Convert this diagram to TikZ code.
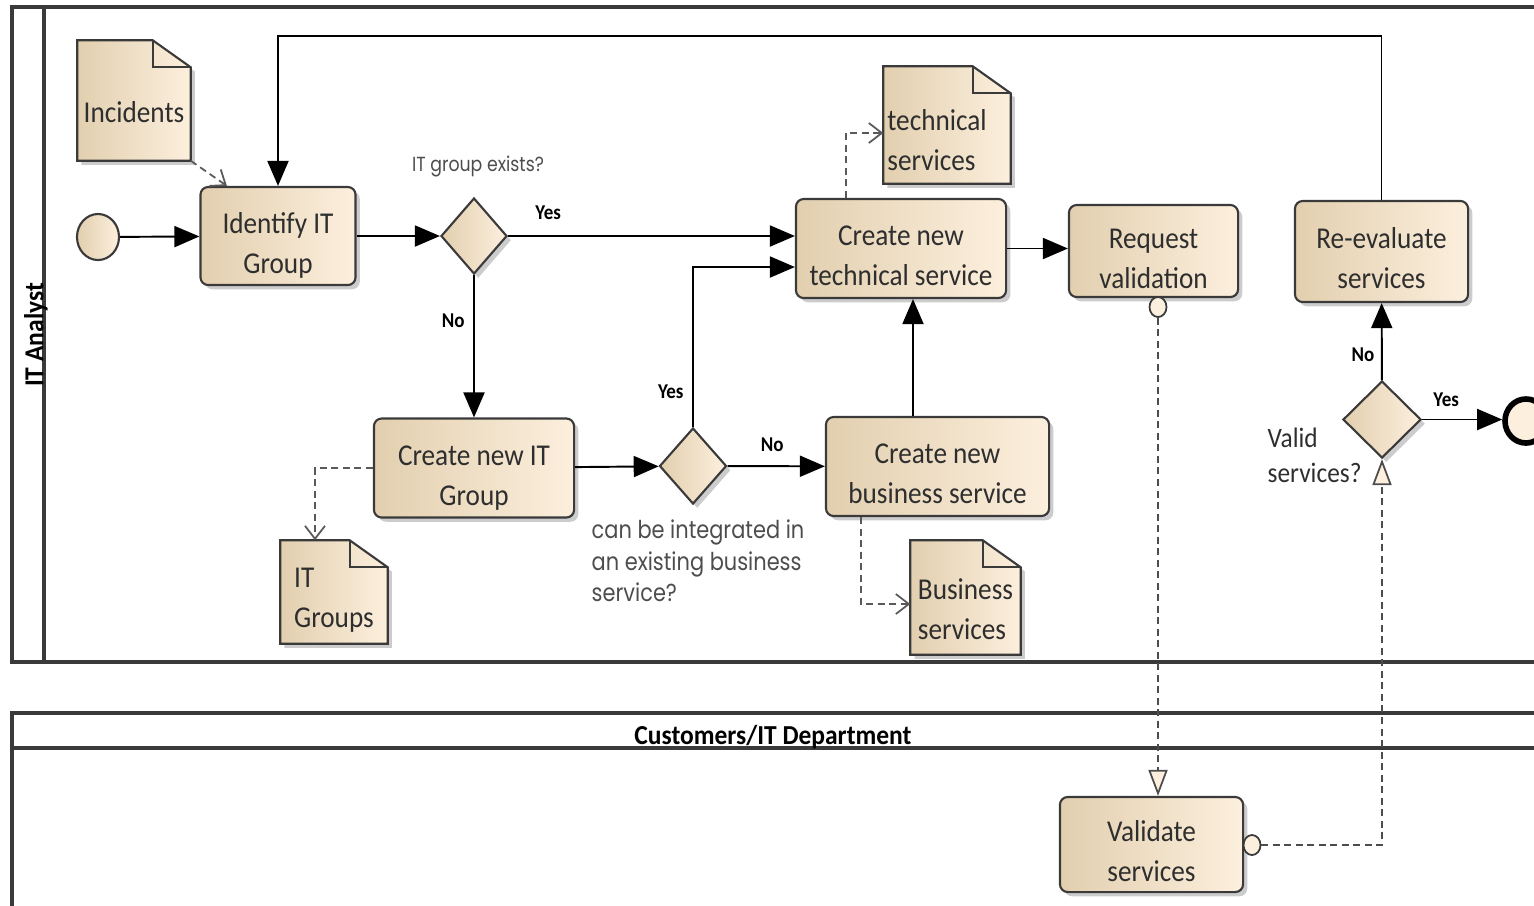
\documentclass[tikz,border=0pt]{standalone}
\usepackage{fontspec}
\setmainfont{Carlito}
\newfontfamily\taskfont[FakeStretch=0.9]{Carlito}
\newfontfamily\lanefont[FakeStretch=0.93]{Carlito}
\newfontfamily\condfont[FakeStretch=0.85]{Poppins}
\usetikzlibrary{positioning, arrows.meta, shapes.geometric, shadows, backgrounds}

\definecolor{sandleft}{HTML}{E2CFAF}
\definecolor{sandright}{HTML}{FCEFDD}
\definecolor{inkline}{HTML}{3A3A3A}
\definecolor{inktext}{HTML}{2E2E2E}

\newcommand{\tasklines}[2]{\rule{0pt}{12.2pt}#1\\#2\rule[-2.5pt]{0pt}{2.5pt}}

\tikzset{
  sandfill/.style={left color=sandleft, right color=sandright},
  shade box/.style={sandfill, draw=inkline, line width=0.6pt,
    drop shadow={shadow xshift=1.2pt, shadow yshift=-1.2pt, opacity=0.4}},
  task/.style={shade box, rounded corners=2.2pt, align=center, text=inktext, inner ysep=0pt,
    font=\taskfont\fontsize{8.6}{11.4}\selectfont},
  gateway/.style={shade box, diamond, inner sep=0pt},
  datadoc/.style={inner sep=0pt},
  doctext/.style={align=left, text=inktext, font=\taskfont\fontsize{8.6}{11.4}\selectfont},
  startev/.style={ellipse, sandfill, draw=inkline, line width=0.6pt, inner sep=0pt,
    minimum width=0.42cm, minimum height=0.46cm},
  endev/.style={ellipse, fill=sandright, draw=black, line width=1.6pt, inner sep=0pt,
    minimum width=0.42cm, minimum height=0.44cm},
  msgdot/.style={ellipse, fill=sandright, draw=inkline, line width=0.5pt, inner sep=0pt,
    minimum width=0.17cm, minimum height=0.2cm},
  pool/.style={draw=inkline, line width=1pt},
  poolname/.style={font=\lanefont\bfseries\fontsize{7.8}{9}\selectfont, inner sep=0pt},
  flow/.style={draw=black, line width=0.55pt, -{Triangle[length=2.5mm, width=2.1mm]}},
  assoc/.style={draw=gray!70!black, line width=0.5pt, dash pattern=on 0.7mm off 0.45mm,
    -{Straight Barb[length=1.3mm, width=2mm]}},
  msgflow/.style={draw=gray!60!black, line width=0.5pt, dash pattern=on 0.7mm off 0.45mm,
    -{Triangle[length=2.6mm, width=1.9mm, fill=sandright]}},
  tag/.style={font=\taskfont\bfseries\fontsize{6}{7}\selectfont, inner sep=1pt},
  cond/.style={font=\condfont\fontsize{7}{9}\selectfont, text=inktext!85, align=left, inner sep=0pt},
  condsmall/.style={font=\condfont\fontsize{5.8}{7}\selectfont, text=inktext!85, inner sep=0pt}
}

\begin{document}
\begin{tikzpicture}[x=0.01cm, y=-0.01cm]
\useasboundingbox (0,0) rectangle (1534,905);
\clip (0,0) rectangle (1534,905);

\draw[pool] (1600,7) -- (12,7) -- (12,662) -- (1600,662);
\draw[pool] (44,7) -- (44,662);
\draw[pool] (1600,713) -- (12,713) -- (12,960);
\draw[pool] (12,748) -- (1600,748);
\node[poolname, rotate=90] (analyst) at (36,335) {IT Analyst};
\node[poolname] (customers) at (773,737) {Customers/IT Department};

\node[startev] (start) at (98,237) {};
\node[endev] (finish) at (1526,421) {};

\node[task, minimum width=1.55cm, minimum height=0.98cm] (identify) at (278,236) {\tasklines{Identify IT}{Group}};
\node[task, minimum width=2.00cm, minimum height=0.99cm] (newgroup) at (474,468) {\tasklines{Create new IT}{Group}};
\node[task, minimum width=2.10cm, minimum height=0.99cm] (newtech) at (901,248.5) {\tasklines{Create new}{technical service}};
\node[task, minimum width=2.23cm, minimum height=0.99cm] (newbiz) at (937.5,466.5) {\tasklines{Create new}{business service}};
\node[task, minimum width=1.69cm, minimum height=0.92cm] (request) at (1153.5,251) {\tasklines{Request}{validation}};
\node[task, minimum width=1.73cm, minimum height=1.01cm] (reeval) at (1381.5,251.5) {\tasklines{Re-evaluate}{services}};
\node[task, minimum width=1.83cm, minimum height=0.95cm] (validate) at (1151.5,844.5) {\tasklines{Validate}{services}};

\node[gateway, minimum width=0.66cm, minimum height=0.76cm] (gw1) at (474,236) {};
\node[gateway, minimum width=0.67cm, minimum height=0.76cm] (gw2) at (693,466) {};
\node[gateway, minimum width=0.78cm, minimum height=0.77cm] (gw3) at (1382,419.5) {};

\node[datadoc, minimum width=1.12cm, minimum height=1.19cm,
  label={[doctext, yshift=-0.12cm]center:Incidents}] (incidents) at (134,100.5) {};
\node[datadoc, minimum width=1.26cm, minimum height=1.16cm,
  label={[doctext, yshift=-0.15cm, xshift=-0.1cm]center:{technical\\services}}] (techdocs) at (947,125) {};
\node[datadoc, minimum width=1.06cm, minimum height=1.02cm,
  label={[doctext, yshift=-0.08cm]center:{IT\\Groups}}] (itgroups) at (334,592) {};
\node[datadoc, minimum width=1.09cm, minimum height=1.13cm,
  label={[doctext, yshift=-0.12cm]center:{Business\\services}}] (bizdocs) at (965.5,597.5) {};

\begin{scope}[on background layer]
\foreach \d in {incidents, techdocs, itgroups, bizdocs}{
  \path[shade box] (\d.north west) -- ([xshift=-0.38cm]\d.north east) -- ([yshift=-0.27cm]\d.north east)
    -- (\d.south east) -- (\d.south west) -- cycle;
  \draw[inkline, line width=0.6pt] ([xshift=-0.38cm]\d.north east) |- ([yshift=-0.27cm]\d.north east);
}
\end{scope}

\node[condsmall] (gw1q) at (478,166) {IT group exists?};
\node[cond, anchor=north west] (gw2q) at (591,519) {can be integrated in\\an existing business\\service?};
\node[doctext, font=\taskfont\fontsize{8}{10}\selectfont, anchor=west, inner sep=0pt] (gw3q) at (1267,455) {Valid\\services?};

\node[msgdot] (reqdot) at (1158,307) {};
\node[msgdot] (valdot) at (1252,845) {};

\draw[flow] (start) -- (identify);
\draw[flow] (identify) -- (gw1);
\draw[flow] (gw1) -- node[tag, above=0.12cm, pos=0.14] {Yes} ([yshift=0.125cm]newtech.west);
\draw[flow] (gw1) -- node[tag, left=0.05cm, pos=0.32] {No} (newgroup);
\draw[flow] (newgroup) -- (gw2);
\draw[flow] (gw2) -- node[tag, above=0.1cm, pos=0.46] {No} (newbiz);
\draw[flow] (gw2) |- node[tag, left=0.05cm, pos=0.11] {Yes} ([yshift=-0.185cm]newtech.west);
\draw[flow] ([xshift=-0.245cm]newbiz.north) -- ([xshift=-0.245cm]newbiz.north |- newtech.south);
\draw[flow] (newtech.east) -- (newtech.east -| request.west);
\draw[flow] (reeval) |- ([yshift=1.5cm]identify.north) -- (identify);
\draw[flow] (gw3) -- node[tag, left=0.03cm, pos=0.33] {No} (reeval);
\draw[flow] (gw3) -- node[tag, above=0.08cm, pos=0.3] {Yes} (gw3 -| finish.west);

\draw[assoc] (incidents.south east) -- ([xshift=0.275cm]identify.north west);
\draw[assoc] ([xshift=-0.55cm]newtech.north) |- ([yshift=-0.08cm]techdocs.west);
\draw[assoc] (newgroup.west) -| ([xshift=-0.19cm]itgroups.north);
\draw[assoc] ([xshift=-0.765cm]newbiz.south) |- ([yshift=-0.065cm]bizdocs.west);

\draw[msgflow] (reqdot) -- (reqdot |- validate.north);
\draw[msgflow] (valdot) -| (gw3);
\end{tikzpicture}
\end{document}
